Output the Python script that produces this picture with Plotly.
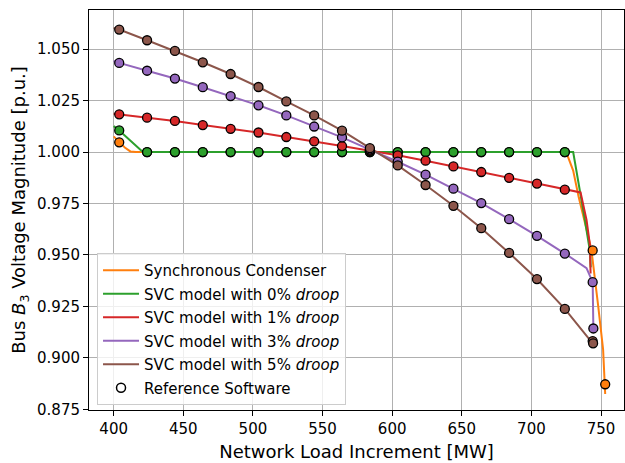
import plotly.graph_objects as go

# Reference-software operating points (load increment in MW)
ref_load = [404, 424, 444, 464, 484, 504, 524, 544, 564, 584,
            604, 624, 644, 664, 684, 704, 724]

ref_sc_load = ref_load + [744, 753]
ref_sc_v = [1.0047, 1.000, 1.000, 1.000, 1.000, 1.000, 1.000, 1.000, 1.000, 1.000,
            1.000, 1.000, 1.000, 1.000, 1.000, 1.000, 1.000, 0.9522, 0.8872]

ref_svc0_v = [1.0105, 1.000, 1.000, 1.000, 1.000, 1.000, 1.000, 1.000, 1.000, 1.000,
              1.000, 1.000, 1.000, 1.000, 1.000, 1.000, 1.000]

ref_svc1_v = [1.0183, 1.0167, 1.0151, 1.0131, 1.0113, 1.0095, 1.0073, 1.0052, 1.0029, 1.0006,
              0.9984, 0.9958, 0.9930, 0.9903, 0.9875, 0.9847, 0.9817]

ref_svc3_load = ref_load + [744, 744.5]
ref_svc3_v = [1.0433, 1.0395, 1.0357, 1.0315, 1.0272, 1.0227, 1.0178, 1.0124, 1.0071, 1.0012,
              0.9953, 0.9890, 0.9822, 0.9752, 0.9674, 0.9593, 0.9507, 0.9368, 0.9143]

ref_svc5_load = ref_load + [744, 744.3]
ref_svc5_v = [1.0595, 1.0543, 1.0491, 1.0436, 1.0379, 1.0316, 1.0246, 1.0178, 1.0104, 1.0019,
              0.9935, 0.9840, 0.9739, 0.9630, 0.9510, 0.9383, 0.9238, 0.9082, 0.9071]

# Simulated continuation curves
sc_load = [400, 404, 408, 412, 416, 725, 730, 734, 743, 748, 751.5, 753]
sc_v = [1.0076, 1.0048, 1.0022, 1.0003, 1.000, 1.000, 0.991, 0.978, 0.953, 0.925, 0.904, 0.8825]

svc0_load = [400, 404, 421, 730, 738, 742, 742.6]
svc0_v = [1.0126, 1.0105, 1.000, 1.000, 0.9687, 0.952, 0.944]

svc1_load = [400] + ref_load + [735.3, 739.6, 742, 742.5]
svc1_v = [1.0186] + ref_svc1_v + [0.9804, 0.967, 0.955, 0.941]

svc3_load = [400] + ref_load + [739.6, 744, 744.5]
svc3_v = [1.0442] + ref_svc3_v[:17] + [0.9436, 0.9368, 0.9143]

svc5_load = [400] + ref_load + [744]
svc5_v = [1.0603] + ref_svc5_v[:17] + [0.9071]

names = ["Synchronous Condenser",
         "SVC model with 0% <i>droop</i>",
         "SVC model with 1% <i>droop</i>",
         "SVC model with 3% <i>droop</i>",
         "SVC model with 5% <i>droop</i>"]
colors = ["#ff7f0e", "#2ca02c", "#d62728", "#9467bd", "#8c564b"]

curves = [(sc_load, sc_v), (svc0_load, svc0_v), (svc1_load, svc1_v),
          (svc3_load, svc3_v), (svc5_load, svc5_v)]
refs = [(ref_sc_load, ref_sc_v), (ref_load, ref_svc0_v), (ref_load, ref_svc1_v),
        (ref_svc3_load, ref_svc3_v), (ref_svc5_load, ref_svc5_v)]

font_family = "DejaVu Sans"
fig = go.Figure()

for i, ((x, y), name, c) in enumerate(zip(curves, names, colors)):
    fig.add_trace(go.Scatter(x=x, y=y, mode="lines", name=name,
                             legendgroup=f"g{i}",
                             line=dict(color=c, width=2)))

for (x, y), c in zip(refs, colors):
    fig.add_trace(go.Scatter(x=x, y=y, mode="markers", showlegend=False,
                             marker=dict(size=9, color=c,
                                         line=dict(color="black", width=1.3))))

fig.add_trace(go.Scatter(x=[None], y=[None], mode="markers", name="Reference Software",
                         legendgroup="ref",
                         marker=dict(size=9, color="white",
                                     line=dict(color="black", width=1.5))))

axis_common = dict(
    showgrid=True, gridcolor="#b0b0b0", gridwidth=1,
    showline=True, linecolor="black", linewidth=1, mirror=True,
    ticks="outside", ticklen=5, tickcolor="black", tickwidth=1,
    tickfont=dict(family=font_family, size=15, color="black"),
    zeroline=False,
)

fig.update_layout(
    width=625, height=463,
    margin=dict(l=89, r=1, t=10, b=53),
    plot_bgcolor="white", paper_bgcolor="white",
    font=dict(family=font_family, color="black"),
    xaxis=dict(axis_common, range=[382.3, 766.5],
               tickvals=[400, 450, 500, 550, 600, 650, 700, 750],
               title=dict(text="Network Load Increment [MW]",
                          font=dict(size=18), standoff=8)),
    yaxis=dict(axis_common, range=[0.8747, 1.069], dtick=0.025, tick0=0.875,
               tickformat=".3f",
               title=dict(text="Bus <i>B</i><sub>3</sub> Voltage Magnitude [p.u.]",
                          font=dict(size=18), standoff=6)),
    legend=dict(x=0.015, y=0.0125, xanchor="left", yanchor="bottom",
                bgcolor="rgba(255,255,255,0.8)", bordercolor="#cccccc",
                borderwidth=1, font=dict(size=15), itemwidth=36,
                tracegroupgap=1),
)

fig.write_html("out.html")
